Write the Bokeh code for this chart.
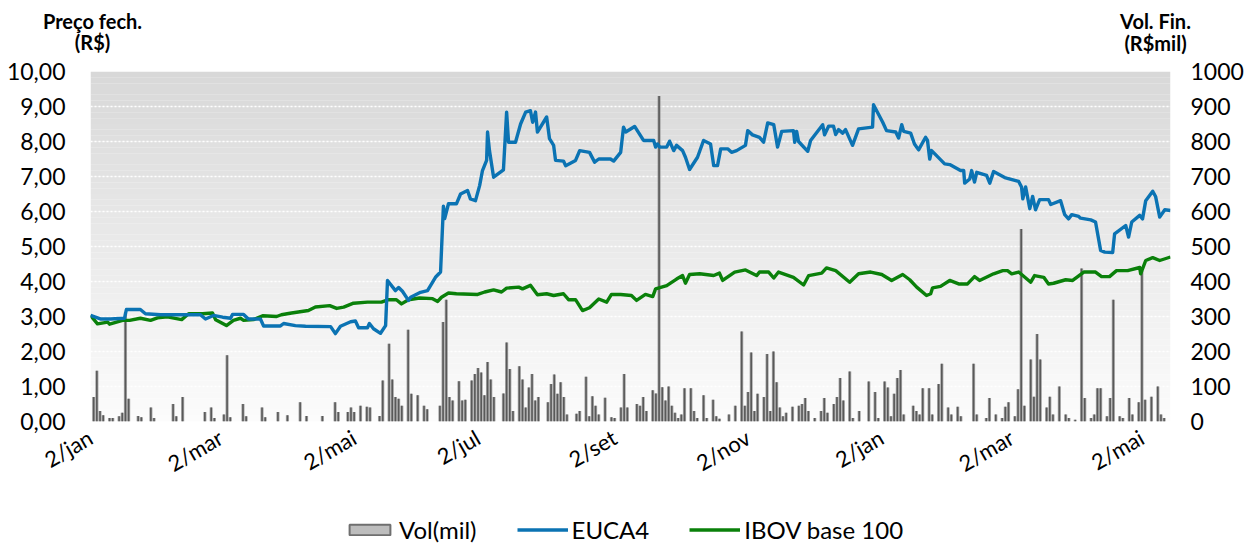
import math
from bokeh.plotting import figure
from bokeh.layouts import column
from bokeh.models import (Range1d, LinearAxis, FixedTicker, Legend, LegendItem,
                          ColumnDataSource)
from bokeh.core.properties import value
from bokeh.embed import file_html
from bokeh.resources import INLINE

FONT = "Lato"
W = 1248
NAN = float("nan")

# ---------------- data ----------------
x_tick_days = [0, 41, 83, 122, 165, 207, 249, 290, 331]
x_tick_labels = ["2/jan", "2/mar", "2/mai", "2/jul", "2/set", "2/nov", "2/jan", "2/mar", "2/mai"]

price_ticks = [0, 1, 2, 3, 4, 5, 6, 7, 8, 9, 10]
price_tick_labels = ["0,00", "1,00", "2,00", "3,00", "4,00", "5,00",
                     "6,00", "7,00", "8,00", "9,00", "10,00"]
vol_ticks = [0, 100, 200, 300, 400, 500, 600, 700, 800, 900, 1000]
vol_tick_labels = ["0", "100", "200", "300", "400", "500", "600", "700", "800", "900", "1000"]

left_title = ["Preço fech.", "(R$)"]
right_title = ["Vol. Fin.", "(R$mil)"]
legend_labels = ["Vol(mil)", "EUCA4", "IBOV base 100"]

euca_day = [
    0.0, 3.1, 6.3, 10.7, 11.3, 15.7, 17.3, 22.0, 34.6, 36.2,
    38.7, 41.6, 44.1, 44.7, 48.2, 49.7, 53.5, 54.5, 59.8, 60.8,
    64.5, 67.7, 75.6, 77.1, 78.7, 81.9, 83.4, 84.4, 87.2, 87.8,
    89.1, 91.3, 92.9, 93.5, 96.0, 97.0, 98.2, 100.1, 100.8, 103.9,
    106.1, 108.6, 110.2, 111.1, 111.5, 112.7, 115.2, 116.5, 118.7, 119.6,
    121.2, 122.5, 123.4, 124.7, 125.0, 125.6, 126.9, 130.0, 131.0, 131.6,
    133.8, 135.4, 137.0, 138.5, 139.2, 140.1, 140.7, 143.6, 144.5, 145.8,
    146.4, 148.9, 149.6, 152.7, 154.0, 157.1, 158.7, 160.0, 163.7, 164.7,
    166.9, 167.8, 168.5, 171.3, 174.1, 177.3, 177.9, 178.5, 179.2, 181.4,
    182.3, 183.6, 184.5, 186.4, 187.3, 188.6, 191.1, 193.0, 195.2, 196.2,
    197.4, 198.4, 200.6, 201.8, 203.4, 206.2, 206.9, 208.4, 210.6, 211.9,
    213.2, 215.1, 216.3, 217.6, 221.3, 221.7, 222.3, 222.9, 225.8, 226.7,
    230.5, 231.1, 232.4, 233.9, 234.6, 235.5, 236.8, 237.7, 239.9, 241.8,
    246.2, 246.5, 249.4, 250.6, 253.5, 254.4, 255.4, 256.0, 258.2, 259.4,
    260.7, 262.9, 263.5, 264.2, 264.8, 268.9, 270.5, 273.9, 274.9, 275.2,
    276.8, 277.4, 278.3, 279.0, 282.1, 283.1, 284.3, 287.8, 292.2, 293.1,
    293.5, 294.4, 295.7, 296.6, 297.5, 298.8, 301.6, 302.3, 305.4, 306.7,
    307.9, 308.9, 311.1, 311.7, 314.9, 316.4, 318.0, 319.3, 321.8, 322.4,
    325.9, 326.8, 327.8, 330.3, 331.2, 332.2, 334.4, 335.3, 336.6, 338.2,
    340.0,
]
euca_price = [
    3.03, 2.93, 2.93, 2.95, 3.20, 3.20, 3.08, 3.05, 3.05, 2.93,
    3.03, 2.98, 2.95, 3.06, 3.06, 2.93, 2.93, 2.73, 2.73, 2.80,
    2.74, 2.72, 2.71, 2.51, 2.72, 2.85, 2.87, 2.68, 2.68, 2.80,
    2.65, 2.52, 2.74, 4.03, 3.74, 3.83, 3.72, 3.46, 3.55, 3.69,
    3.74, 4.12, 4.27, 6.15, 5.80, 6.22, 6.22, 6.50, 6.60, 6.36,
    6.31, 6.74, 7.17, 7.46, 8.27, 7.74, 6.98, 7.19, 8.84, 7.98,
    7.98, 8.50, 8.84, 8.88, 8.55, 8.84, 8.27, 8.70, 8.08, 7.89,
    7.46, 7.44, 7.31, 7.46, 7.74, 7.69, 7.41, 7.50, 7.50, 7.44,
    7.69, 8.41, 8.27, 8.43, 8.03, 8.03, 7.84, 7.93, 7.84, 7.84,
    8.01, 7.74, 7.89, 7.74, 7.55, 7.20, 7.55, 8.03, 7.93, 7.31,
    7.31, 7.79, 7.79, 7.69, 7.74, 7.89, 8.31, 8.19, 8.12, 7.98,
    8.53, 8.48, 7.84, 8.29, 8.31, 7.98, 8.29, 8.00, 7.72, 8.03,
    8.48, 8.19, 8.44, 8.44, 8.20, 8.34, 8.24, 8.34, 7.89, 8.36,
    8.41, 9.05, 8.55, 8.31, 8.27, 8.10, 8.48, 8.29, 8.24, 7.93,
    7.76, 8.12, 8.03, 7.50, 7.74, 7.36, 7.34, 7.17, 7.17, 6.81,
    6.93, 7.17, 6.84, 7.12, 7.03, 6.81, 7.14, 6.97, 6.86, 6.70,
    6.36, 6.70, 6.08, 6.43, 6.05, 6.34, 6.34, 6.20, 6.31, 5.91,
    5.79, 5.91, 5.86, 5.81, 5.76, 5.70, 4.89, 4.84, 4.83, 5.36,
    5.60, 5.27, 5.70, 5.89, 5.79, 6.31, 6.58, 6.43, 5.84, 6.05,
    6.03,
]

ibov_day = [
    0.0, 2.2, 5.4, 6.0, 10.1, 12.3, 15.7, 18.9, 21.1, 24.2,
    28.7, 30.9, 35.3, 38.4, 39.4, 42.8, 45.0, 47.2, 48.2, 51.3,
    54.2, 58.6, 60.1, 63.3, 68.6, 70.8, 75.3, 77.5, 79.7, 82.8,
    87.2, 91.6, 93.8, 96.3, 97.9, 100.1, 103.6, 107.7, 109.3, 110.5,
    112.7, 115.2, 121.9, 124.1, 126.9, 129.4, 131.0, 134.8, 136.0, 138.5,
    140.7, 143.6, 145.8, 148.9, 150.5, 152.7, 154.9, 157.1, 160.0, 162.5,
    164.0, 166.9, 170.3, 171.9, 174.7, 177.0, 177.9, 181.4, 184.5, 186.4,
    187.3, 188.6, 191.8, 196.2, 198.0, 199.0, 201.2, 202.8, 206.2, 209.7,
    210.6, 213.5, 215.1, 216.6, 221.3, 224.5, 226.1, 230.2, 231.7, 234.6,
    239.0, 241.8, 245.6, 249.1, 252.2, 255.7, 257.9, 260.1, 263.2, 264.5,
    265.1, 267.6, 270.5, 273.3, 276.1, 278.3, 279.9, 284.3, 287.2, 288.7,
    290.0, 292.2, 296.0, 297.2, 300.1, 301.6, 303.2, 307.0, 309.2, 312.7,
    316.4, 318.3, 320.8, 323.0, 326.5, 330.3, 330.6, 332.2, 334.4, 336.6,
    340.0,
]
ibov_base100 = [
    3.03, 2.79, 2.84, 2.78, 2.89, 2.89, 2.95, 2.89, 2.96, 2.99,
    2.91, 3.08, 3.08, 3.10, 2.91, 2.74, 2.89, 2.95, 2.89, 2.91,
    3.02, 3.00, 3.05, 3.10, 3.17, 3.27, 3.31, 3.23, 3.27, 3.38,
    3.41, 3.41, 3.48, 3.48, 3.36, 3.48, 3.53, 3.51, 3.43, 3.55,
    3.67, 3.65, 3.63, 3.70, 3.76, 3.70, 3.81, 3.84, 3.79, 3.89,
    3.62, 3.65, 3.60, 3.65, 3.48, 3.48, 3.17, 3.25, 3.50, 3.41,
    3.63, 3.63, 3.60, 3.46, 3.63, 3.57, 3.79, 3.88, 4.07, 4.17,
    3.95, 4.20, 4.22, 4.17, 4.24, 4.03, 4.17, 4.27, 4.33, 4.17,
    4.27, 4.27, 4.10, 4.27, 4.12, 3.90, 4.17, 4.24, 4.39, 4.31,
    3.98, 4.22, 4.27, 4.20, 4.03, 4.20, 4.05, 3.84, 3.60, 3.65,
    3.82, 3.86, 4.03, 3.93, 3.93, 4.14, 4.03, 4.22, 4.31, 4.31,
    4.22, 4.27, 3.98, 4.17, 4.12, 3.93, 3.95, 4.05, 4.03, 4.27,
    4.27, 4.14, 4.14, 4.31, 4.31, 4.40, 4.22, 4.60, 4.68, 4.60,
    4.70,
]

vol_day = [
    1, 2, 3, 4, 6, 7, 9, 10, 11, 12,
    15, 16, 19, 20, 26, 27, 29, 36, 38, 39,
    42, 43, 44, 48, 49, 54, 55, 59, 62, 66,
    68, 73, 77, 78, 81, 82, 83, 85, 87, 88,
    91, 92, 94, 95, 96, 97, 98, 100, 101, 103,
    105, 106, 110, 111, 112, 113, 114, 116, 117, 118,
    120, 121, 122, 123, 124, 125, 126, 127, 130, 131,
    132, 133, 135, 136, 137, 138, 139, 140, 141, 144,
    145, 146, 147, 148, 149, 150, 153, 154, 156, 157,
    158, 159, 160, 162, 164, 165, 167, 168, 169, 172,
    173, 174, 175, 177, 178, 179, 180, 181, 182, 183,
    184, 185, 186, 187, 189, 190, 191, 193, 194, 196,
    197, 198, 201, 203, 205, 206, 207, 208, 209, 210,
    212, 213, 214, 215, 216, 217, 218, 219, 221, 223,
    224, 225, 226, 228, 230, 231, 232, 234, 235, 236,
    237, 239, 240, 242, 245, 247, 248, 250, 251, 252,
    253, 254, 255, 256, 259, 260, 261, 262, 264, 265,
    267, 268, 270, 271, 273, 274, 278, 279, 282, 283,
    285, 287, 288, 289, 291, 292, 293, 294, 296, 297,
    298, 299, 301, 302, 303, 305, 307, 308, 310, 312,
    313, 315, 316, 317, 318, 320, 321, 322, 324, 325,
    327, 328, 330, 331, 332, 334, 336, 337, 338,
]
vol_mil = [
    70, 145, 30, 18, 10, 10, 15, 25, 312, 65,
    16, 12, 40, 10, 50, 15, 70, 27, 40, 10,
    20, 189, 12, 50, 15, 40, 12, 27, 18, 55,
    16, 16, 55, 27, 27, 40, 27, 45, 42, 40,
    16, 117, 222, 120, 70, 65, 45, 262, 79, 75,
    45, 35, 45, 284, 348, 70, 60, 115, 60, 62,
    117, 136, 153, 140, 75, 170, 120, 70, 80, 226,
    150, 30, 158, 120, 40, 97, 136, 60, 70, 55,
    107, 134, 79, 112, 70, 20, 22, 30, 128, 15,
    72, 45, 20, 68, 12, 10, 40, 136, 40, 50,
    45, 70, 30, 89, 80, 930, 98, 60, 100, 45,
    25, 10, 20, 95, 95, 30, 10, 75, 10, 62,
    15, 8, 20, 45, 257, 45, 84, 197, 30, 79,
    70, 193, 30, 200, 112, 40, 15, 25, 42, 45,
    50, 67, 30, 10, 30, 67, 25, 50, 70, 124,
    60, 143, 10, 30, 114, 84, 10, 114, 97, 15,
    79, 124, 147, 20, 45, 30, 20, 95, 95, 20,
    107, 165, 40, 20, 42, 15, 165, 20, 10, 67,
    20, 10, 42, 55, 15, 92, 550, 45, 177, 71,
    250, 177, 40, 71, 20, 100, 20, 10, 5, 437,
    67, 10, 20, 95, 95, 15, 67, 348, 15, 10,
    67, 20, 55, 430, 62, 71, 100, 20, 10,
]

BLUE = "#0b73b3"
GREEN = "#0a800a"

# ---------------- header (axis titles) ----------------
H_HEAD = 55
head = figure(width=W, height=H_HEAD, output_backend="svg", toolbar_location=None,
              x_range=Range1d(0, W), y_range=Range1d(H_HEAD, 0),
              x_axis_type=None, y_axis_type=None, title=None,
              min_border_left=0, min_border_right=0, min_border_top=0,
              min_border_bottom=0)
head.frame_align = False
head.outline_line_color = None
head.grid.visible = False
head.text(x=[92, 92, 1155, 1155], y=[20, 41, 20, 42],
          text=left_title + right_title,
          text_align="center", text_baseline="middle",
          text_font=value(FONT), text_font_style="bold",
          text_font_size="20px", text_color="#000000")

# ---------------- main chart ----------------
H_MAIN = 450
p = figure(width=W, height=H_MAIN, output_backend="svg", toolbar_location=None,
           x_range=Range1d(0, 340), y_range=Range1d(0, 10), title=None,
           min_border_left=90, min_border_right=W - 1170, min_border_top=16,
           min_border_bottom=84)
p.frame_align = False
p.outline_line_color = None
p.background_fill_color = "white"
p.border_fill_color = "white"
p.extra_y_ranges = {"vol": Range1d(0, 1000)}

# background vertical gradient (style only)
nb = 60
bands = dict(left=[], right=[], bottom=[], top=[], color=[])
for k in range(nb):
    f = (k + 0.5) / nb
    g = int(round(252 - (252 - 216) * f))
    bands["left"].append(0)
    bands["right"].append(340)
    bands["bottom"].append(10 * k / nb)
    bands["top"].append(10 * (k + 1) / nb)
    bands["color"].append("#%02x%02x%02x" % (g, g, g))
p.quad(left="left", right="right", bottom="bottom", top="top", color="color",
       source=ColumnDataSource(bands), level="image", line_width=0)

p.xgrid.visible = False
p.ygrid.ticker = FixedTicker(ticks=price_ticks[1:-1])
p.ygrid.grid_line_color = "white"
p.ygrid.grid_line_dash = "2 2"
p.ygrid.grid_line_width = 1.5

vsrc = ColumnDataSource(dict(day=vol_day, vol=vol_mil))
p.vbar(x="day", top="vol", width=1.0, source=vsrc, y_range_name="vol",
       fill_color="#969696", fill_alpha=0.8, line_color=None)
p.vbar(x="day", top="vol", width=0.5, source=vsrc, y_range_name="vol",
       fill_color="#595959", line_color=None)

p.line(ibov_day, ibov_base100, line_color=GREEN, line_width=3.4, line_join="round")
p.line(euca_day, euca_price, line_color=BLUE, line_width=3.4, line_join="round")


def style_axis(ax, size="23px"):
    ax.axis_line_color = None
    ax.major_tick_line_color = None
    ax.minor_tick_line_color = None
    ax.major_tick_out = 0
    ax.major_tick_in = 0
    ax.minor_tick_out = 0
    ax.minor_tick_in = 0
    ax.major_label_text_font = FONT
    ax.major_label_text_font_size = size
    ax.major_label_text_color = "#000000"


ax_l = p.yaxis[0]
ax_l.ticker = FixedTicker(ticks=price_ticks)
ax_l.major_label_overrides = dict(zip(price_ticks, price_tick_labels))
ax_l.major_label_standoff = 25
style_axis(ax_l)

ax_r = LinearAxis(y_range_name="vol", ticker=FixedTicker(ticks=vol_ticks))
ax_r.major_label_overrides = dict(zip(vol_ticks, vol_tick_labels))
ax_r.major_label_standoff = 20
style_axis(ax_r)
p.add_layout(ax_r, "right")

ax_b = p.xaxis[0]
ax_b.ticker = FixedTicker(ticks=x_tick_days)
ax_b.major_label_overrides = dict(zip(x_tick_days, x_tick_labels))
ax_b.major_label_orientation = math.radians(30)
ax_b.major_label_standoff = 14
style_axis(ax_b, "22px")

# ---------------- footer (legend) ----------------
H_FOOT = 546 - H_HEAD - H_MAIN
foot = figure(width=W, height=H_FOOT, output_backend="svg", toolbar_location=None,
              x_range=Range1d(0, 1), y_range=Range1d(0, 1),
              x_axis_type=None, y_axis_type=None, title=None,
              min_border_left=0, min_border_right=0, min_border_top=0,
              min_border_bottom=0)
foot.frame_align = False
foot.outline_line_color = None
foot.grid.visible = False
# legend-only renderers (no visible data)
r_vol = foot.vbar(x=[NAN], top=[NAN], width=0.01, fill_color="#bdbdbd",
                  line_color="#6f6f6f", line_width=2)
r_euca = foot.line(x=[NAN, NAN], y=[NAN, NAN], line_color=BLUE, line_width=3.4)
r_ibov = foot.line(x=[NAN, NAN], y=[NAN, NAN], line_color=GREEN, line_width=3.4)
legend = Legend(items=[LegendItem(label=legend_labels[0], renderers=[r_vol]),
                       LegendItem(label=legend_labels[1], renderers=[r_euca]),
                       LegendItem(label=legend_labels[2], renderers=[r_ibov])],
                location=(344, 2), orientation="horizontal",
                glyph_width=51, glyph_height=13, label_height=22,
                label_standoff=4, spacing=40, padding=0, margin=0,
                border_line_color=None, background_fill_alpha=0,
                label_text_font=FONT, label_text_font_size="24px",
                label_text_color="#000000")
foot.add_layout(legend, "center")

layout = column(head, p, foot, spacing=0)
open("out.html", "w").write(file_html(layout, INLINE))
